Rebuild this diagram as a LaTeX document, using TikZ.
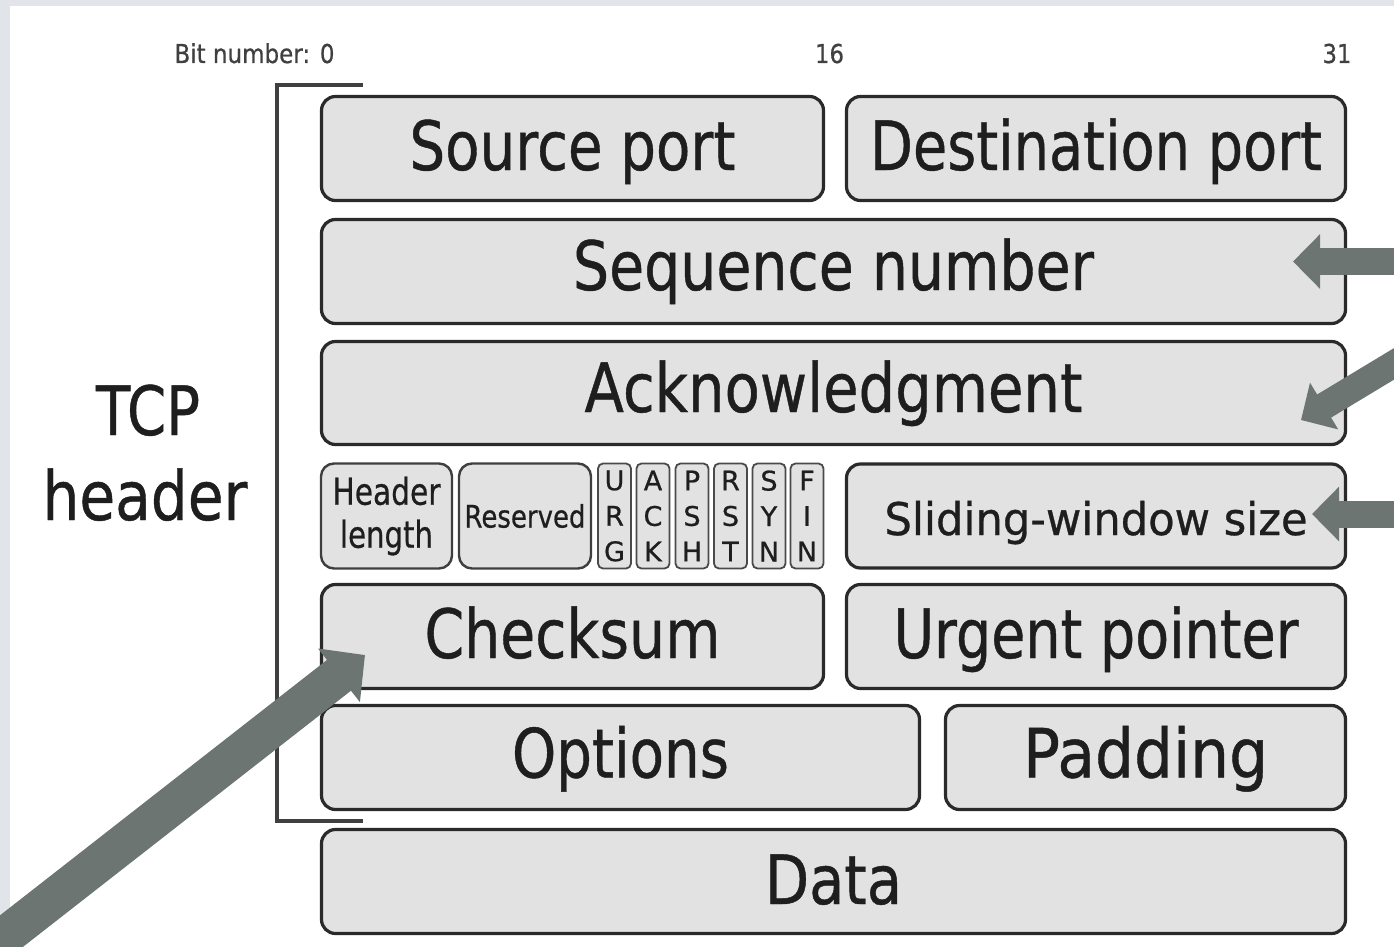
\documentclass[tikz,border=0pt]{standalone}
\usepackage{fontspec}
\setmainfont{DejaVu Sans}[FakeBold=0.7]
\usetikzlibrary{arrows.meta,calc}
\definecolor{frame}{HTML}{E1E5EA}
\definecolor{cellfill}{HTML}{E2E2E3}
\definecolor{cellline}{HTML}{2A2A2A}
\definecolor{ink}{HTML}{1E1E1E}
\definecolor{pointer}{HTML}{6C7572}
% squeeze a label horizontally to a given width (in pt), keeping its height
\newcommand\fitto[2]{\resizebox{#1pt}{\height}{#2}}

\begin{document}
\begin{tikzpicture}[x=1pt,y=-1pt,
  field/.style={draw=cellline, line width=3.2pt, fill=cellfill,
    rounded corners=14pt, inner sep=0pt, text=ink,
    font=\fontsize{68}{68}\selectfont, minimum height=104pt},
  lift/.style={text height=#1, text depth=0pt},
  smallfield/.style={draw=cellline!90, line width=2.4pt, fill=cellfill,
    rounded corners=13pt, inner sep=0pt, text=ink, minimum height=105pt,
    align=center},
  flag/.style={draw=cellline!85, line width=1.8pt, fill=cellfill,
    rounded corners=5pt, inner sep=0pt, text=ink, minimum width=33pt,
    minimum height=105pt, align=center,
    font=\fontsize{27}{35.5}\selectfont},
  bitmark/.style={anchor=base, text=ink!85, inner sep=0pt,
    font=\fontsize{26}{26}\selectfont},
  sidelabel/.style={anchor=base, text=ink, inner sep=0pt,
    font=\fontsize{68}{68}\selectfont},
  bracket/.style={draw=cellline!90, line width=3.2pt},
  thinptr/.style={draw=pointer, line width=27pt,
    -{Triangle[length=27pt,width=53pt]}},
  fatptr/.style={draw=pointer, line width=39pt,
    -{Triangle[length=33pt,width=66pt]}},
]
% canvas and frame
\clip (0,0) rectangle (1394,947);
\fill[frame] (0,0) rectangle (1394,947);
\fill[white] (10,6) rectangle (1394,947);

% bit positions
\node[bitmark] (bit0)  at (254.5,63) {\fitto{160}{Bit number: 0}};
\node[bitmark] (bit16) at (829.5,63) {\fitto{29}{16}};
\node[bitmark] (bit31) at (1337,63)  {\fitto{29}{31}};

% header bracket and caption
\draw[bracket] (363,85) -- (277,85) -- (277,821) -- (363,821);
\node[sidelabel] (tcp) at (148,435) {\fitto{104}{TCP}};
\node[sidelabel] (hdr) at (145,520) {\fitto{205}{header}};

% row 1
\node[field, lift=43pt, minimum width=502pt] (src) at (572.5,148.5) {\fitto{326}{Source port}};
\node[field, lift=43pt, minimum width=499pt] (dst) at (1096,148.5) {\fitto{452}{Destination port}};
% rows 2 and 3
\node[field, lift=37pt, minimum width=1024pt] (seq) at (833.5,271.5) {\fitto{521}{Sequence number}};
\node[field, lift=38pt, minimum width=1024pt, minimum height=103pt] (ack) at (833.5,393) {\fitto{498}{Acknowledgment}};
% row 4: offsets, reserved bits, flags, window
\node[smallfield, minimum width=131pt, font=\fontsize{37}{43}\selectfont] (hlen) at (386.5,516)
  {\fitto{108}{Header}\\\fitto{93}{length}};
\node[smallfield, minimum width=132pt, font=\fontsize{31}{31}\selectfont] (resv) at (525,516)
  {\fitto{121}{Reserved}};
\node[flag] (urgf) at (614.5,516) {U\\R\\G};
\node[flag] (ackf) at (653,516)   {A\\C\\K};
\node[flag] (pshf) at (692,516)   {P\\S\\H};
\node[flag] (rstf) at (730.5,516) {R\\S\\T};
\node[flag] (synf) at (769,516)   {S\\Y\\N};
\node[flag] (finf) at (807,516)   {F\\I\\N};
\node[field, lift=38pt, minimum width=499pt, font=\fontsize{45}{45}\selectfont] (win) at (1096,516)
  {\fitto{423}{Sliding-window size}};
% row 5
\node[field, lift=43pt, minimum width=502pt] (chk) at (572.5,636.5) {\fitto{296}{Checksum}};
\node[field, lift=43pt, minimum width=499pt] (urg) at (1096,636.5) {\fitto{405}{Urgent pointer}};
% row 6
\node[field, lift=40pt, minimum width=598pt] (opt) at (620.5,757.5) {\fitto{217}{Options}};
\node[field, lift=40pt, minimum width=400pt] (pad) at (1145.5,757.5) {\fitto{245}{Padding}};
% payload
\node[field, lift=45pt, minimum width=1024pt] (data) at (833.5,881.5) {\fitto{137}{Data}};

% pointers
\coordinate (tailseq) at (1420,261.5);
\coordinate (tailack) at (1412,353);
\coordinate (tailwin) at (1420,514);
\coordinate (tailchk) at (-30,963.5);
\draw[thinptr] (tailseq) -- ($(seq.center)+(459.5,-10)$);
\draw[thinptr] (tailack) -- ($(ack.center)+(467.5,27)$);
\draw[thinptr] (tailwin) -- ($(win.center)+(216,-2)$);
\draw[fatptr]  (tailchk) -- ($(chk.center)+(-207.5,18.5)$);
\end{tikzpicture}
\end{document}
